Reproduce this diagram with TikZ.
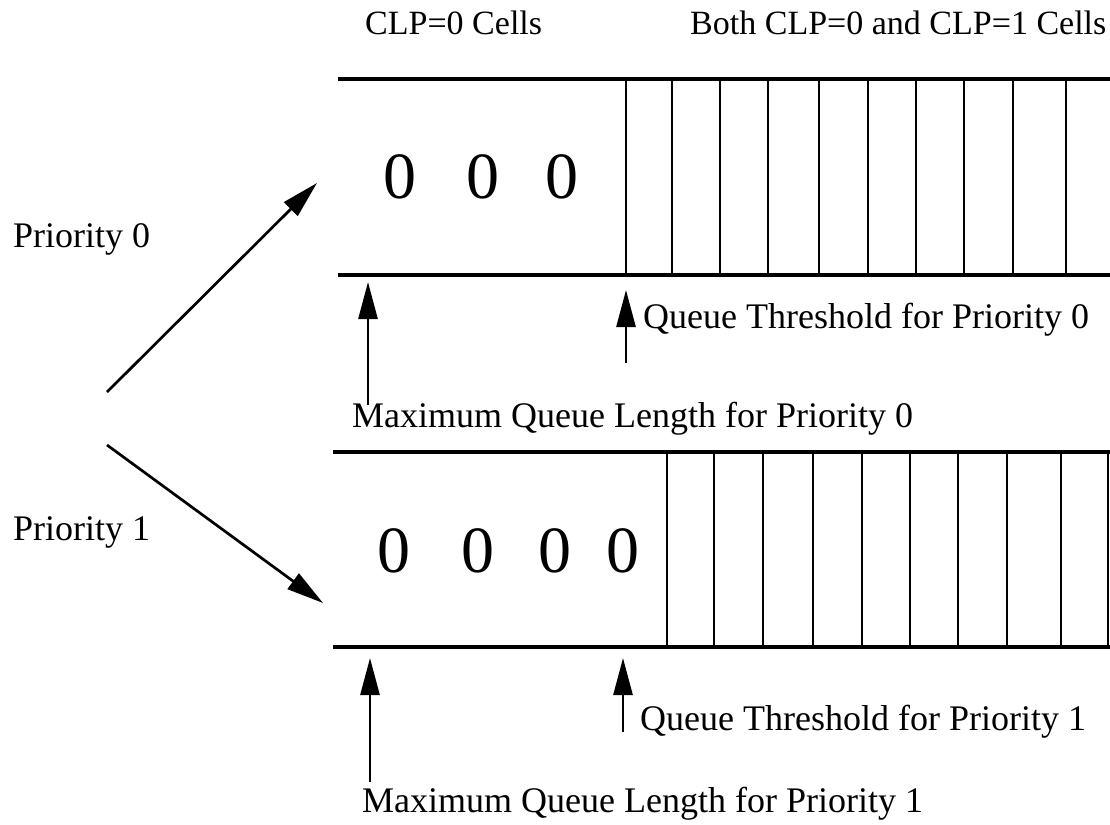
\documentclass[tikz,border=0pt]{standalone}
\usepackage{fontspec}
\setmainfont{Liberation Serif}
\usetikzlibrary{arrows.meta}
\tikzset{>={Triangle[length=37pt,width=19pt]}}
\colorlet{penColor}{black}
\tikzset{
	lbl/.style={penColor, inner sep=0pt, anchor=base west, font=\fontsize{36}{40}\selectfont},
	head/.style={lbl, font=\fontsize{34}{38}\selectfont},
	cell/.style={penColor, inner sep=0pt, anchor=base, font=\fontsize{66}{66}\selectfont},
	wall/.style={penColor, line width=3.2pt},
	slot/.style={penColor, line width=2.6pt},
	arw/.style={->, penColor, line width=2.7pt}
}
\begin{document}
\begin{tikzpicture}[x=1pt,y=-1pt]
				\useasboundingbox (0,0) rectangle (1110,824);
				% column headings
				\node [head] (clp0) at (365,35) {CLP=0 Cells};
				\node [head] (clpboth) at (690,35) {Both CLP=0 and CLP=1 Cells};
				% priority 0 queue
				\draw [wall] (338,79) -- (1110,79);
				\draw [wall] (338,275) -- (1110,275);
				\foreach \x in {626,672,720,768,819,868,916,964,1013,1066}
					\draw [slot] (\x,79) -- (\x,275);
				\node [cell] (c01) at (400,198) {0};
				\node [cell] (c02) at (483,198) {0};
				\node [cell] (c03) at (562,198) {0};
				% priority 1 queue
				\draw [wall] (333,452) -- (1110,452);
				\draw [wall] (333,647) -- (1110,647);
				\foreach \x in {667,714,763,813,862,910,958,1007,1061,1108}
					\draw [slot] (\x,452) -- (\x,647);
				\node [cell] (c11) at (394,572) {0};
				\node [cell] (c12) at (478,572) {0};
				\node [cell] (c13) at (555,572) {0};
				\node [cell] (c14) at (623,572) {0};
				% incoming traffic
				\node [lbl] (pri0) at (13,247) {Priority 0};
				\node [lbl] (pri1) at (13,540) {Priority 1};
				\coordinate (fork0) at (107,392);
				\coordinate (fork1) at (107,445);
				\coordinate (in0) at (317,183);
				\coordinate (in1) at (323,603);
				\draw [arw] (fork0) -- (in0);
				\draw [arw] (fork1) -- (in1);
				% limits for priority 0
				\coordinate (max0) at (368,282);
				\coordinate (max0t) at (368,405);
				\coordinate (thr0) at (626,290);
				\coordinate (thr0t) at (626,363);
				\draw [arw] (max0t) -- (max0);
				\draw [arw] (thr0t) -- (thr0);
				\node [lbl] (thr0l) at (643,328) {Queue Threshold for Priority 0};
				\node [lbl] (max0l) at (352,427) {Maximum Queue Length for Priority 0};
				% limits for priority 1
				\coordinate (max1) at (370,658);
				\coordinate (max1t) at (370,782);
				\coordinate (thr1) at (623,658);
				\coordinate (thr1t) at (623,732);
				\draw [arw] (max1t) -- (max1);
				\draw [arw] (thr1t) -- (thr1);
				\node [lbl] (thr1l) at (640,730) {Queue Threshold for Priority 1};
				\node [lbl] (max1l) at (362,812) {Maximum Queue Length for Priority 1};
\end{tikzpicture}
\end{document}
